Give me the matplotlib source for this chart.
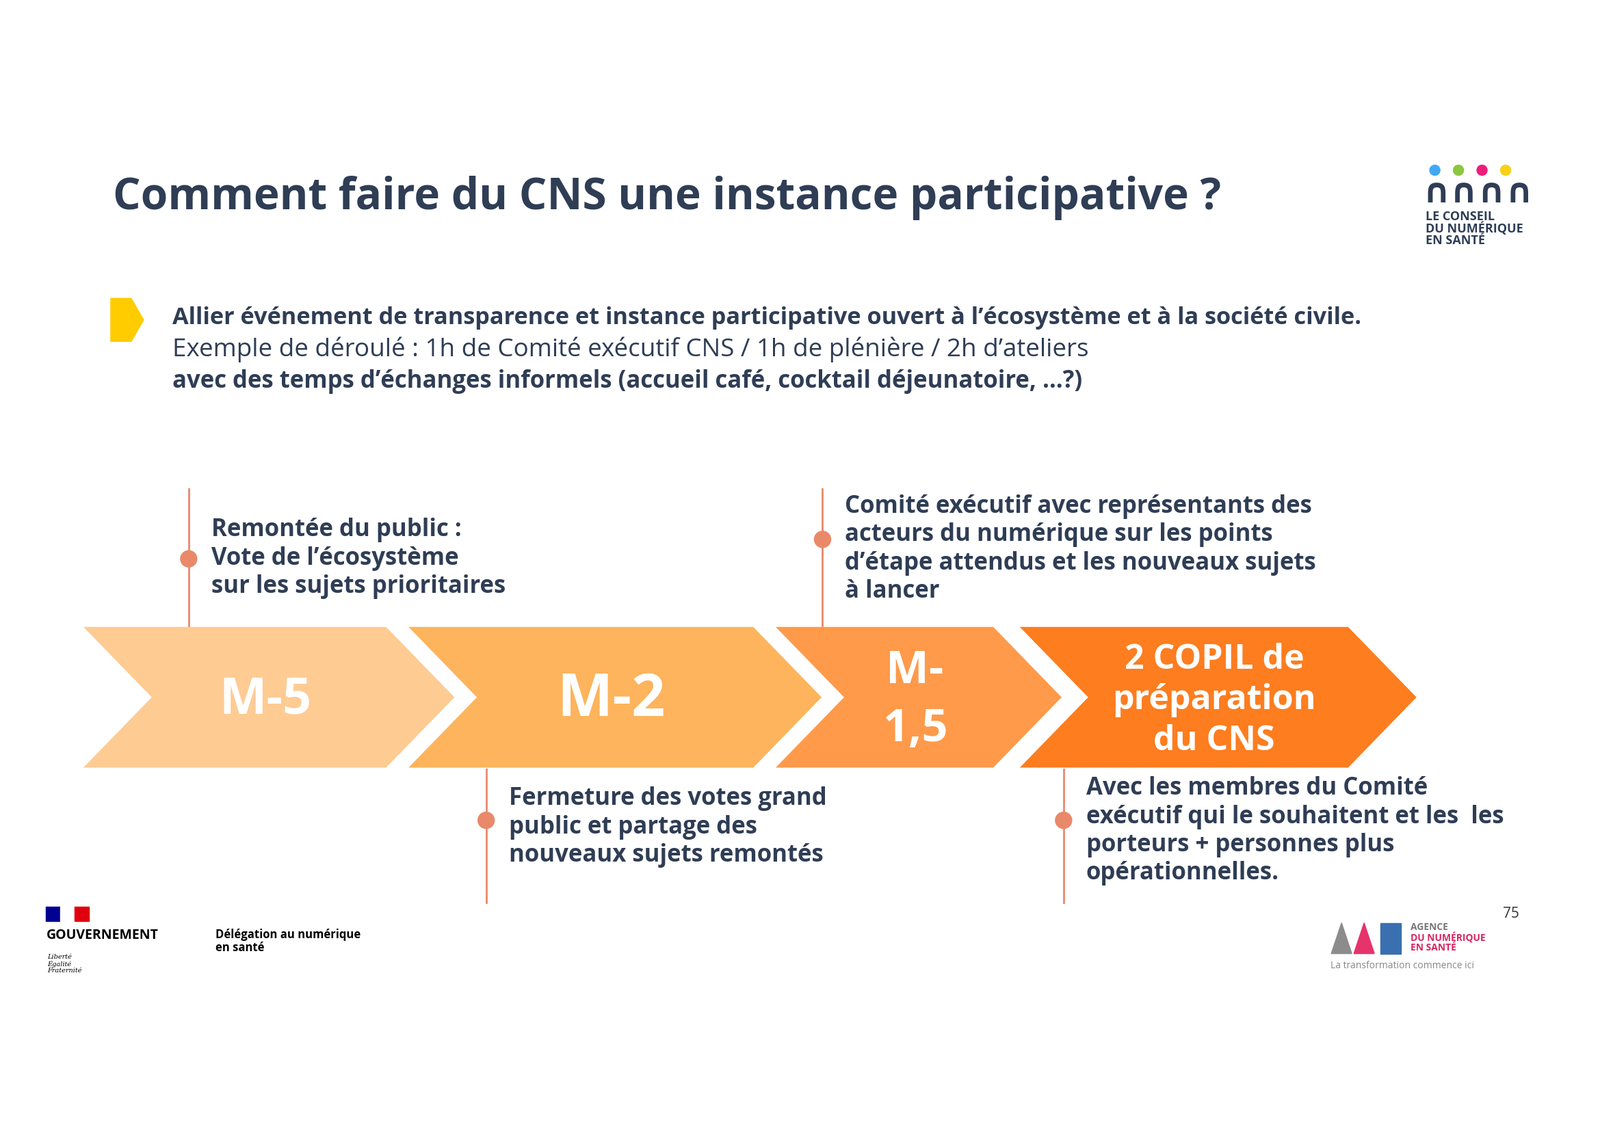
import matplotlib.pyplot as plt
from matplotlib.patches import Polygon, Rectangle, Circle

plt.rcParams['font.family'] = 'Open Sans'

W, H = 1560, 1103   # working coordinates (scaled to 2339x1654 on save)
navy = '#2f3d55'
salmon = '#e9896a'

title = 'Comment faire du CNS une instance participative ?'
step_labels = ['M-5', 'M-2', 'M-\n1,5', '2 COPIL de\npréparation\ndu CNS']
step_colors = ['#fecb93', '#fdb45c', '#fe9a4a', '#fd7d1f']
step_x = [(78, 377), (395, 735), (753, 969), (991, 1315)]
step_fs = [53, 62, 48, 36]
step_ls = [1.0, 1.0, 1.35, 1.25]
notes = [
    'Remontée du public :\nVote de l\u2019écosystème\nsur les sujets prioritaires',
    'Fermeture des votes grand\npublic et partage des\nnouveaux sujets remontés',
    'Comité exécutif avec représentants des\nacteurs du numérique sur les points\nd\u2019étape attendus et les nouveaux sujets\nà lancer',
    'Avec les membres du Comité\nexécutif qui le souhaitent et les  les\nporteurs + personnes plus\nopérationnelles.',
]
note_line_x = [184, 474, 802, 1037]
note_above = [True, False, True, False]
note_dot_y = [545, 800, 526, 800]
note_top = [505, 767, 482, 757]

fig = plt.figure(figsize=(23.39, 16.54), dpi=100)
ax = fig.add_axes([0, 0, 1, 1])
ax.set_xlim(0, W)
ax.set_ylim(H, 0)
ax.axis('off')

ax.text(110, 193, title, fontsize=46, fontweight='bold', color=navy, va='center')

# yellow marker + intro text
ax.add_patch(Polygon([(108, 291), (128, 291), (140, 312), (128, 333), (108, 333)],
                     closed=True, color='#ffcc00'))
ax.text(168, 310, 'Allier événement de transparence et instance participative ouvert à l\u2019écosystème et à la société civile.',
        fontsize=24.7, fontweight='bold', color=navy, va='center')
ax.text(168, 341, 'Exemple de déroulé : 1h de Comité exécutif CNS / 1h de plénière / 2h d\u2019ateliers',
        fontsize=26.5, color=navy, va='center')
ax.text(168, 372, 'avec des temps d\u2019échanges informels (accueil café, cocktail déjeunatoire, \u2026?)',
        fontsize=25, fontweight='bold', color=navy, va='center')

# chevrons
ytop, ybot = 610, 750
ymid = (ytop + ybot) / 2
for (x0, x1), c, lab, fs, ls in zip(step_x, step_colors, step_labels, step_fs, step_ls):
    pts = [(x0, ytop), (x1, ytop), (x1 + 68, ymid), (x1, ybot), (x0, ybot), (x0 + 68, ymid)]
    ax.add_patch(Polygon(pts, closed=True, facecolor=c, edgecolor='white', lw=3))
    cx = (x0 + 68 + x1) / 2 - 3
    ax.text(cx, ymid + 3, lab, fontsize=fs, fontweight='bold', color='white',
            ha='center', va='center', linespacing=ls)

# notes with vertical lines and dots
for x, txt, above, dy, top in zip(note_line_x, notes, note_above, note_dot_y, note_top):
    if above:
        ax.plot([x, x], [477, ytop], color=salmon, lw=2)
    else:
        ax.plot([x, x], [ybot, 880], color=salmon, lw=2)
    ax.add_patch(Circle((x, dy), 8, color=salmon))
    ax.text(x + 22, top, txt, fontsize=25, fontweight='bold', color=navy,
            va='top', linespacing=1.2)

# CNS logo (top right)
for i, c in enumerate(['#3fa9f5', '#8cc63f', '#ed1e79', '#f7d117']):
    ax.add_patch(Circle((1399 + i * 23, 166), 5, color=c))
ax.text(1387, 188, '\u2229\u2229\u2229\u2229', fontsize=36, fontweight='bold', color=navy, va='center',
        family='DejaVu Sans')
ax.text(1390, 223, 'LE CONSEIL\nDU NUMÉRIQUE\nEN SANTÉ', fontsize=13, fontweight='bold',
        color=navy, va='center', linespacing=0.9)

# government logo (bottom left)
ax.add_patch(Rectangle((45, 884), 14, 14, color='#000091'))
ax.add_patch(Rectangle((59, 884), 14, 14, color='white'))
ax.add_patch(Rectangle((73, 884), 14, 14, color='#e1000f'))
ax.text(45, 912, 'GOUVERNEMENT', fontsize=14, fontweight='bold', color='black', va='center')
ax.text(46, 940, 'Liberté\nÉgalité\nFraternité', fontsize=7, style='italic', family='DejaVu Serif',
        color='black', va='center', linespacing=1.0)
ax.text(210, 918, 'Délégation au numérique\nen santé', fontsize=12, fontweight='bold',
        color='black', va='center', linespacing=1.1)

# page number and ANS logo (bottom right)
ax.text(1473, 891, '75', fontsize=15, color='#333333', ha='center', va='center')
ax.add_patch(Polygon([(1298, 930), (1308, 900), (1318, 930)], closed=True, color='#8c8c8c'))
ax.add_patch(Polygon([(1320, 930), (1330, 900), (1340, 930)], closed=True, color='#e6336b'))
ax.add_patch(Rectangle((1346, 900), 20, 30, color='#3a6fb0'))
ax.text(1375, 909, 'AGENCE', fontsize=10, fontweight='bold', color='#777777', va='bottom')
ax.text(1375, 909, 'DU NUMÉRIQUE\nEN SANTÉ', fontsize=10, fontweight='bold', color='#d9245f',
        va='top', linespacing=0.95)
ax.text(1297, 942, 'La transformation commence ici', fontsize=10, color='#888888', va='center')

fig.savefig('out.png', dpi=100)
